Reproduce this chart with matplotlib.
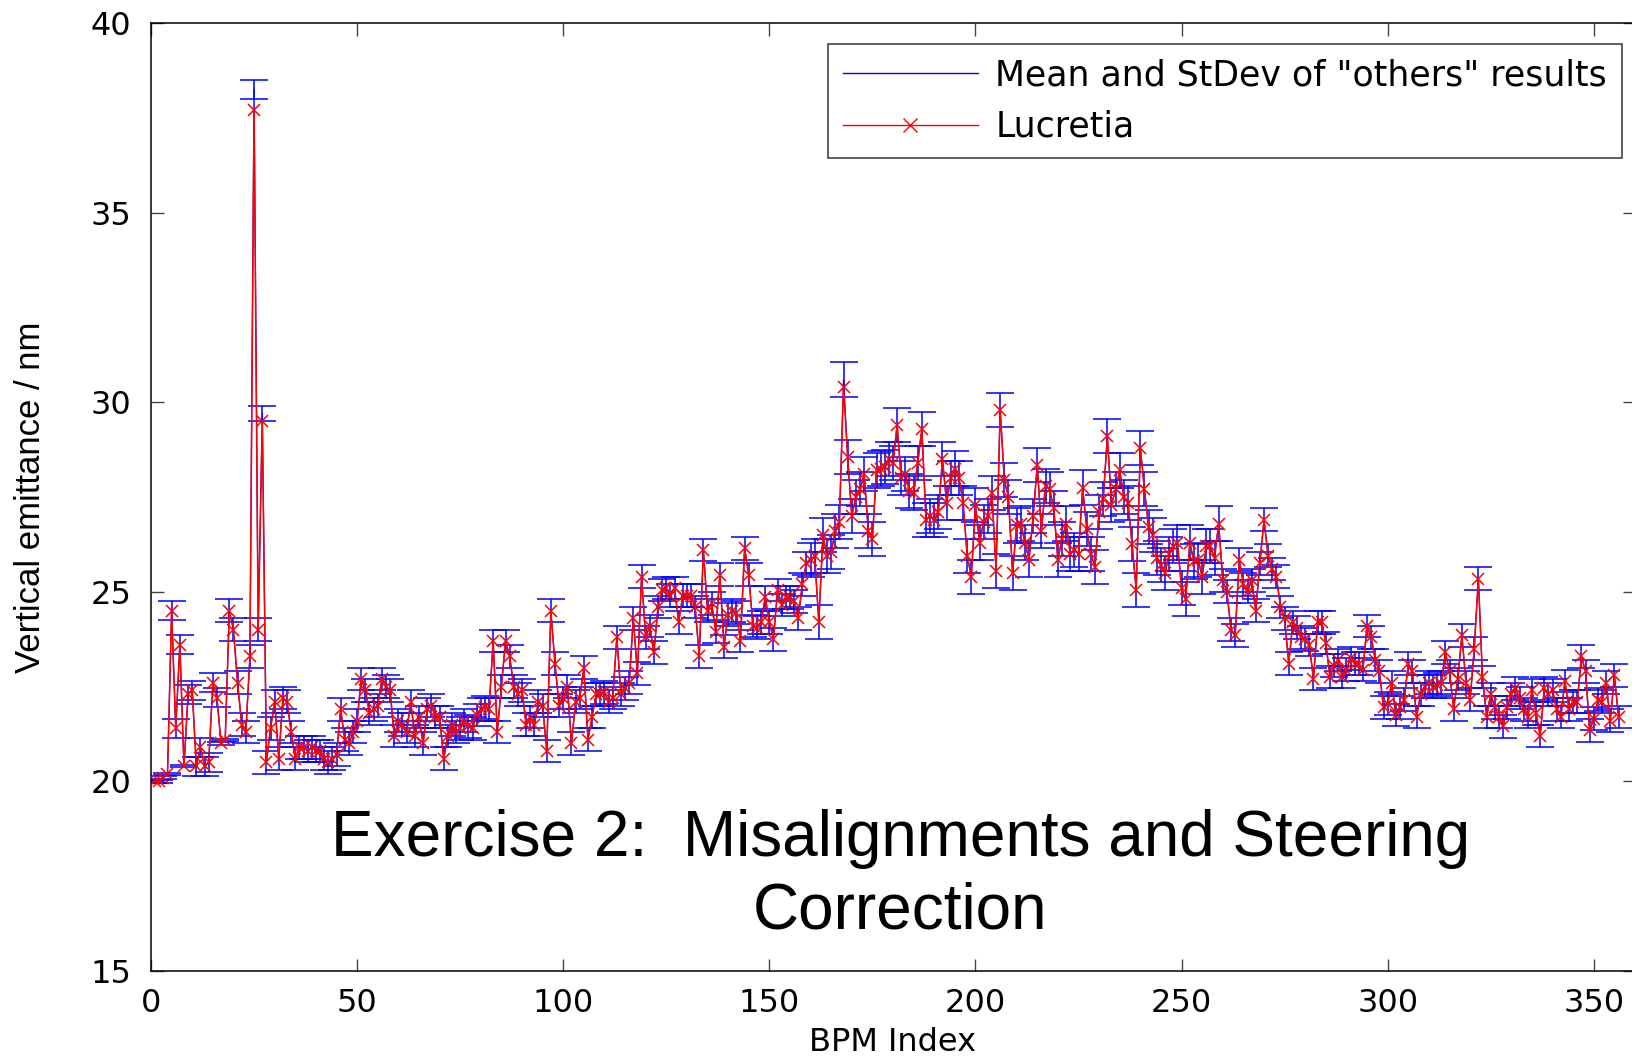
import matplotlib
matplotlib.use('Agg')
import matplotlib.pyplot as plt
from matplotlib.lines import Line2D
import numpy as np

# Lucretia vertical emittance per BPM (nm)
lucretia = [
    20.0, 20.0, 20.1, 20.2, 24.5, 21.4, 23.6, 20.4, 22.3, 22.4,
    20.4, 20.9, 20.4, 20.5, 22.6, 22.2, 21.0, 21.1, 24.5, 24.0,
    22.6, 21.5, 21.3, 23.3, 37.7, 24.0, 29.5, 20.5, 21.4, 22.1,
    20.6, 22.2, 22.1, 21.3, 20.6, 20.9, 20.9, 20.8, 20.9, 20.8,
    20.8, 20.6, 20.5, 20.6, 20.7, 21.9, 21.1, 21.0, 21.3, 21.6,
    22.7, 22.4, 21.8, 21.9, 22.0, 22.7, 22.5, 22.4, 21.2, 21.6,
    21.5, 21.3, 22.1, 21.2, 21.7, 21.0, 21.9, 22.0, 21.7, 21.7,
    20.6, 21.2, 21.5, 21.3, 21.4, 21.6, 21.45, 21.4, 21.75, 21.9,
    21.95, 21.9, 23.7, 21.3, 22.5, 23.7, 23.3, 22.5, 22.3, 22.4,
    21.5, 21.7, 21.5, 22.1, 22.0, 20.8, 24.5, 23.1, 22.0, 22.2,
    22.5, 21.0, 22.1, 22.2, 23.0, 21.1, 21.7, 22.3, 22.3, 22.35,
    22.1, 22.2, 23.8, 22.3, 22.45, 22.6, 24.3, 22.85, 25.4, 23.8,
    24.1, 23.4, 24.6, 25.05, 25.1, 24.9, 25.1, 24.2, 24.9, 24.9,
    24.9, 24.6, 23.3, 26.1, 24.5, 24.7, 23.95, 25.45, 23.55, 24.4,
    24.5, 24.45, 23.7, 26.15, 25.45, 24.1, 24.05, 24.2, 24.85, 24.2,
    23.75, 25.05, 24.65, 24.85, 24.85, 24.75, 24.3, 25.2, 25.75, 25.85,
    25.95, 24.2, 26.5, 25.95, 26.05, 26.6, 26.85, 30.4, 28.55, 27.0,
    27.5, 27.7, 28.1, 26.6, 26.4, 28.2, 28.25, 28.3, 28.5, 28.4,
    29.4, 28.0, 28.1, 27.65, 27.6, 28.4, 29.3, 26.9, 27.0, 26.9,
    27.1, 28.5, 27.35, 28.0, 28.25, 28.0, 27.35, 25.95, 25.4, 27.3,
    26.3, 26.85, 27.0, 27.6, 25.55, 29.8, 27.95, 27.5, 25.5, 26.75,
    26.8, 26.3, 25.85, 27.0, 28.35, 26.6, 27.8, 27.7, 27.2, 25.85,
    26.4, 26.8, 26.0, 26.1, 26.0, 27.75, 26.65, 26.0, 25.65, 27.1,
    27.45, 29.1, 27.3, 27.7, 28.2, 27.5, 27.35, 26.25, 25.05, 28.8,
    27.7, 26.7, 26.5, 25.9, 25.7, 25.5, 26.0, 26.2, 26.3, 25.1,
    24.8, 26.3, 25.8, 25.85, 25.4, 26.2, 26.2, 25.9, 26.8, 25.3,
    25.0, 24.0, 23.85, 25.85, 25.2, 25.0, 25.3, 24.5, 25.75, 26.9,
    25.95, 25.6, 25.4, 24.6, 24.3, 23.1, 24.2, 24.05, 23.8, 23.75,
    23.6, 22.7, 24.2, 24.2, 23.65, 22.75, 23.05, 23.2, 22.75, 22.95,
    23.25, 23.1, 23.1, 22.95, 24.1, 23.8, 23.2, 22.9, 21.95, 22.05,
    22.6, 21.75, 21.95, 22.15, 23.1, 22.9, 21.7, 22.3, 22.5, 22.6,
    22.5, 22.55, 22.6, 23.4, 22.9, 21.9, 22.7, 23.85, 22.6, 22.15,
    23.5, 25.35, 22.75, 21.7, 22.3, 21.95, 21.7, 21.45, 21.95, 22.3,
    22.45, 22.2, 21.9, 21.7, 22.4, 21.8, 21.2, 22.45, 22.3, 22.4,
    21.9, 21.7, 22.65, 21.9, 22.1, 22.1, 23.3, 22.9, 21.35, 21.65,
    22.15, 22.1, 22.6, 21.6, 22.8, 21.7,
]

# "others" mean differs from Lucretia only at a few BPMs
mean_diff = {25: 38.25, 27: 29.7, 168: 30.6}

# stdev of "others", as (value, number of BPMs) runs
std_runs = [(0.03, 4), (0.25, 3), (0.03, 1), (0.25, 8), (0.03, 2),
            (0.3, 6), (0.25, 1), (0.3, 1), (0.2, 1), (0.3, 132),
            (0.45, 100), (0.3, 97)]

bpm = np.arange(1, len(lucretia) + 1)
luc = np.array(lucretia)
others_mean = luc.copy()
for k, v in mean_diff.items():
    others_mean[k - 1] = v
others_std = np.repeat([r[0] for r in std_runs], [r[1] for r in std_runs])

plt.rcParams['font.family'] = 'DejaVu Sans'

fig = plt.figure(figsize=(16.32, 10.63), dpi=100)
ax = fig.add_axes([151 / 1632, 92 / 1063, 1484 / 1632, 948 / 1063])

ax.errorbar(bpm, others_mean, yerr=others_std, color='#0000ff', lw=0.9,
            elinewidth=1.1, capsize=10, capthick=1.1, zorder=2)
ax.plot(bpm, luc, color='#ff0000', lw=1.1, marker='x', ms=9, mew=1.1, zorder=3)

ax.set_xlim(0, 360)
ax.set_ylim(15, 40)
ax.set_xticks(range(0, 351, 50))
ax.set_yticks(range(15, 41, 5))
ax.tick_params(direction='in', length=9, width=1, labelsize=23, top=True, right=True,
               color='#444444')
ax.tick_params(axis='x', pad=12)
ax.tick_params(axis='y', pad=14)
for s in ax.spines.values():
    s.set_linewidth(1.1)

ax.set_xlabel('BPM Index', fontsize=23)
ax.xaxis.set_label_coords(0.5, -0.059)
ax.set_ylabel('Vertical emittance / nm', fontsize=25, family='Liberation Sans')
ax.yaxis.set_label_coords(-0.081, 0.5)
ax.yaxis.label.set_va('center')

handles = [Line2D([], [], color='#0000ff', lw=1.0),
           Line2D([], [], color='#ff0000', lw=1.0, marker='x', ms=10)]
leg = ax.legend(handles, ['Mean and StDev of "others" results', 'Lucretia'],
                loc='upper right', bbox_to_anchor=(0.991, 0.978), borderaxespad=0,
                fontsize=25, handlelength=3.9, handletextpad=0.5, frameon=True,
                fancybox=False, edgecolor='black', borderpad=0.42, labelspacing=0.5)
leg.get_frame().set_linewidth(1.1)

ax.text(0.505, 0.101, 'Exercise 2:  Misalignments and Steering\nCorrection',
        transform=ax.transAxes, ha='center', va='center', multialignment='center',
        fontsize=46, family='Liberation Sans', linespacing=1.27)

fig.savefig('out.png', dpi=100)
